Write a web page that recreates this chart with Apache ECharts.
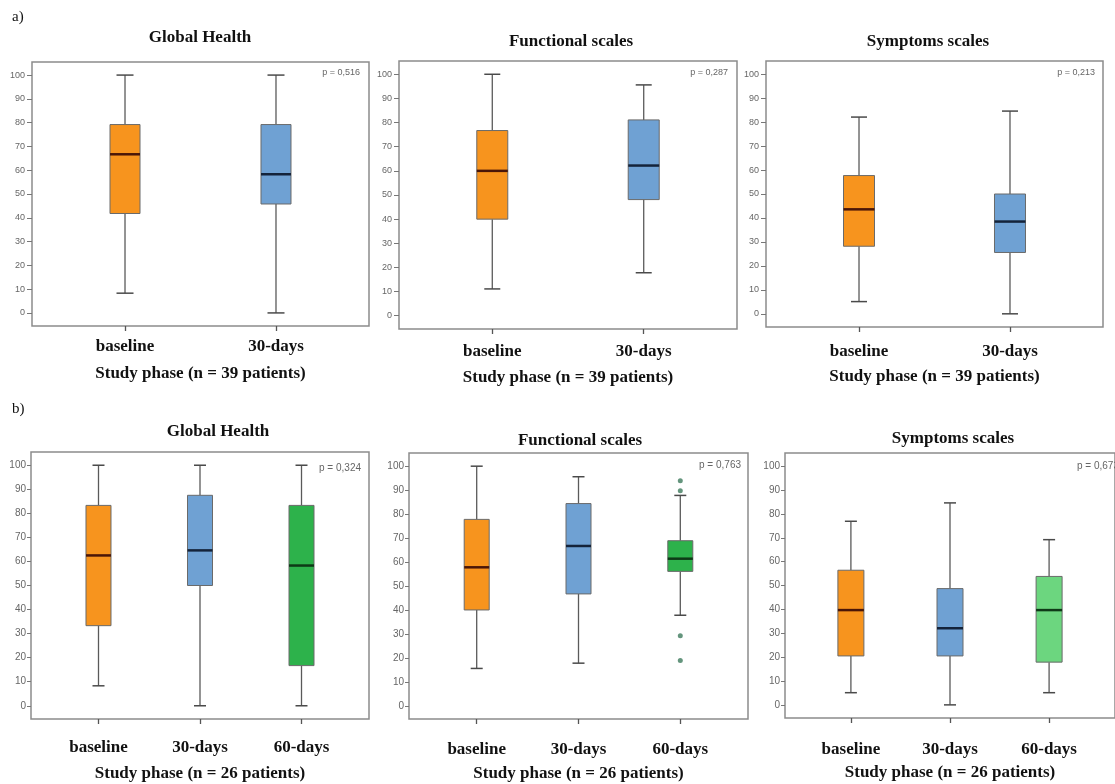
<!DOCTYPE html>
<html>
<head>
<meta charset="utf-8">
<script src="https://cdn.jsdelivr.net/npm/echarts@6/dist/echarts.min.js"></script>
<style>html,body{margin:0;padding:0;background:#fff}#c{width:1115px;height:784px}</style>
</head>
<body>
<div id="c"></div>
<script>
// ---------- data ----------
const catsA = ['baseline', '30-days'];
const catsB = ['baseline', '30-days', '60-days'];
const yTickValues = [0, 10, 20, 30, 40, 50, 60, 70, 80, 90, 100];
const panelTitles = ['Global Health', 'Functional scales', 'Symptoms scales',
                     'Global Health', 'Functional scales', 'Symptoms scales'];
const xAxisTitles = ['Study phase (n = 39 patients)', 'Study phase (n = 39 patients)', 'Study phase (n = 39 patients)',
                     'Study phase (n = 26 patients)', 'Study phase (n = 26 patients)', 'Study phase (n = 26 patients)'];
const pValues = ['p = 0,516', 'p = 0,287', 'p = 0,213', 'p = 0,324', 'p = 0,763', 'p = 0,673'];
const sectionLabels = ['a)', 'b)'];

// each row: [min, Q1, median, Q3, max]
const globalA     = [[8.3, 41.8, 66.7, 79.2, 100], [0, 45.8, 58.3, 79.2, 100]];
const functionalA = [[11.1, 40.0, 60.0, 76.7, 100], [17.8, 48.1, 62.2, 81.1, 95.6]];
const symptomsA   = [[5.1, 28.2, 43.6, 57.7, 82.1], [0, 25.6, 38.5, 50.0, 84.6]];
const globalB     = [[8.3, 33.3, 62.5, 83.3, 100], [0, 50.0, 64.6, 87.5, 100], [0, 16.7, 58.3, 83.3, 100]];
const functionalB = [[15.6, 40.0, 57.8, 77.8, 100], [17.8, 46.7, 66.7, 84.4, 95.6], [37.8, 56.1, 61.4, 68.9, 87.8]];
const symptomsB   = [[5.1, 20.5, 39.7, 56.4, 76.9], [0, 20.5, 32.1, 48.7, 84.6], [5.1, 17.9, 39.7, 53.8, 69.2]];
const functionalB60Outliers = [93.9, 89.7, 29.2, 18.9];

// ---------- styles / layout ----------
const ORANGE = '#F7941E', BLUE = '#6FA1D3', GREEN = '#2DB24B', LGREEN = '#6CD67F';
const MEDIAN = {};
MEDIAN[ORANGE] = '#4a1608'; MEDIAN[BLUE] = '#14233a'; MEDIAN[GREEN] = '#0d3a16'; MEDIAN[LGREEN] = '#0f3a18';
const SERIF = "'Liberation Serif', 'Times New Roman', serif";
const SANS = "'Liberation Sans', Arial, sans-serif";

const panels = [
  {grid: {left: 32,  top: 62,  width: 337, height: 264}, cats: catsA, boxes: globalA,     colors: [ORANGE, BLUE],
   xr: [0.384, 2.616], title: [200, 38],   p: [360, 73, 'right'],  lm: 12, ng: 39, boxW: 30, capW: 17, yf: 9,  ym: 7, yt: 5},
  {grid: {left: 399, top: 61,  width: 338, height: 268}, cats: catsA, boxes: functionalA, colors: [ORANGE, BLUE],
   xr: [0.384, 2.616], title: [571, 42],   p: [728, 73, 'right'],  lm: 14, ng: 40, boxW: 31, capW: 16, yf: 9,  ym: 7, yt: 5},
  {grid: {left: 766, top: 61,  width: 337, height: 266}, cats: catsA, boxes: symptomsA,   colors: [ORANGE, BLUE],
   xr: [0.384, 2.616], title: [928, 42],   p: [1095, 73, 'right'], lm: 16, ng: 41, boxW: 31, capW: 16, yf: 9,  ym: 7, yt: 5},
  {grid: {left: 31,  top: 452, width: 338, height: 267}, cats: catsB, boxes: globalB,     colors: [ORANGE, BLUE, GREEN],
   xr: [0.335, 3.665], title: [218, 432],  p: [361, 468, 'right'], lm: 20, ng: 46, boxW: 25, capW: 12, yf: 10, ym: 5, yt: 4},
  {grid: {left: 409, top: 453, width: 339, height: 266}, cats: catsB, boxes: functionalB, colors: [ORANGE, BLUE, GREEN],
   xr: [0.335, 3.665], title: [580, 441],  p: [741, 465, 'right'], lm: 22, ng: 46, boxW: 25, capW: 12, yf: 10, ym: 5, yt: 4},
  {grid: {left: 785, top: 453, width: 340, height: 265}, cats: catsB, boxes: symptomsB,   colors: [ORANGE, BLUE, LGREEN],
   xr: [0.335, 3.665], title: [953, 439],  p: [1077, 466, 'left'], lm: 23, ng: 46, boxW: 26, capW: 12, yf: 10, ym: 5, yt: 4}
];

function makeRender(p) {
  return function (params, api) {
    const x = api.value(0);
    const c = [1, 2, 3, 4, 5].map(k => api.coord([x, api.value(k)]));
    const cx = c[0][0];
    const hw = p.boxW / 2, hc = p.capW / 2;
    const fill = p.colors[params.dataIndex];
    const ln = (x1, y1, x2, y2, stroke, w) => ({type: 'line', shape: {x1, y1, x2, y2}, style: {stroke, lineWidth: w}});
    return {
      type: 'group',
      children: [
        ln(cx, c[0][1], cx, c[1][1], '#5a5a5a', 1.3),
        ln(cx, c[3][1], cx, c[4][1], '#5a5a5a', 1.3),
        ln(cx - hc, c[0][1], cx + hc, c[0][1], '#4a4a4a', 1.5),
        ln(cx - hc, c[4][1], cx + hc, c[4][1], '#4a4a4a', 1.5),
        {type: 'rect', shape: {x: cx - hw, y: c[3][1], width: p.boxW, height: c[1][1] - c[3][1]},
         style: {fill, stroke: '#6a6a6a', lineWidth: 1}},
        ln(cx - hw, c[2][1], cx + hw, c[2][1], MEDIAN[fill], 2.5)
      ]
    };
  };
}

const grids = [], xAxes = [], yAxes = [], series = [], graphics = [];
panels.forEach((p, i) => {
  grids.push(Object.assign({show: true, borderColor: '#8c8c8c', borderWidth: 1.5, backgroundColor: 'transparent'}, p.grid));
  const catPos = p.cats.map((c, k) => k + 1);
  xAxes.push({
    type: 'value', gridIndex: i, min: p.xr[0], max: p.xr[1], position: 'bottom',
    axisLine: {show: false, onZero: false}, splitLine: {show: false},
    axisTick: {show: true, inside: false, customValues: catPos, length: 5, lineStyle: {color: '#555', width: 1.3}},
    axisLabel: {customValues: catPos, formatter: v => p.cats[Math.round(v) - 1], margin: p.lm,
                fontFamily: SERIF, fontWeight: 'bold', fontSize: 17, color: '#111'},
    name: xAxisTitles[i], nameLocation: 'middle', nameGap: p.ng,
    nameTextStyle: {fontFamily: SERIF, fontWeight: 'bold', fontSize: 17, color: '#111'}
  });
  yAxes.push({
    type: 'value', gridIndex: i, min: -5.5, max: 105.5, position: 'left',
    axisLine: {show: false, onZero: false}, splitLine: {show: false},
    axisTick: {show: true, inside: false, customValues: yTickValues, length: p.yt, lineStyle: {color: '#777'}},
    axisLabel: {customValues: yTickValues, margin: p.ym, fontFamily: SANS, fontSize: p.yf, color: '#666'}
  });
  series.push({
    type: 'custom', xAxisIndex: i, yAxisIndex: i,
    renderItem: makeRender(p),
    encode: {x: 0, y: [1, 2, 3, 4, 5]},
    data: p.boxes.map((b, k) => [k + 1].concat(b)),
    z: 3
  });
  graphics.push({type: 'text', x: p.title[0], y: p.title[1],
    style: {text: panelTitles[i], font: "bold 17px " + SERIF, fill: '#111',
            textAlign: 'center', textVerticalAlign: 'middle', align: 'center', verticalAlign: 'middle'}});
  graphics.push({type: 'text', x: p.p[0], y: p.p[1],
    style: {text: pValues[i], font: (i < 3 ? 9 : 10) + 'px ' + SANS, fill: '#666',
            textAlign: p.p[2], textVerticalAlign: 'middle', align: p.p[2], verticalAlign: 'middle'}});
});

series.push({
  type: 'scatter', xAxisIndex: 4, yAxisIndex: 4,
  data: functionalB60Outliers.map(v => [3, v]),
  symbol: 'circle', symbolSize: 5, itemStyle: {color: '#3d7a5c'}, z: 4
});

graphics.push({type: 'text', x: 12, y: 17, style: {text: sectionLabels[0], font: "15px " + SERIF, fill: '#111',
  textAlign: 'left', textVerticalAlign: 'middle', align: 'left', verticalAlign: 'middle'}});
graphics.push({type: 'text', x: 12, y: 409, style: {text: sectionLabels[1], font: "15px " + SERIF, fill: '#111',
  textAlign: 'left', textVerticalAlign: 'middle', align: 'left', verticalAlign: 'middle'}});

const chart = echarts.init(document.getElementById('c'), null, {renderer: 'canvas'});
chart.setOption({
  animation: false,
  backgroundColor: '#fff',
  grid: grids, xAxis: xAxes, yAxis: yAxes, series: series,
  graphic: {elements: graphics}
});
</script>
</body>
</html>
